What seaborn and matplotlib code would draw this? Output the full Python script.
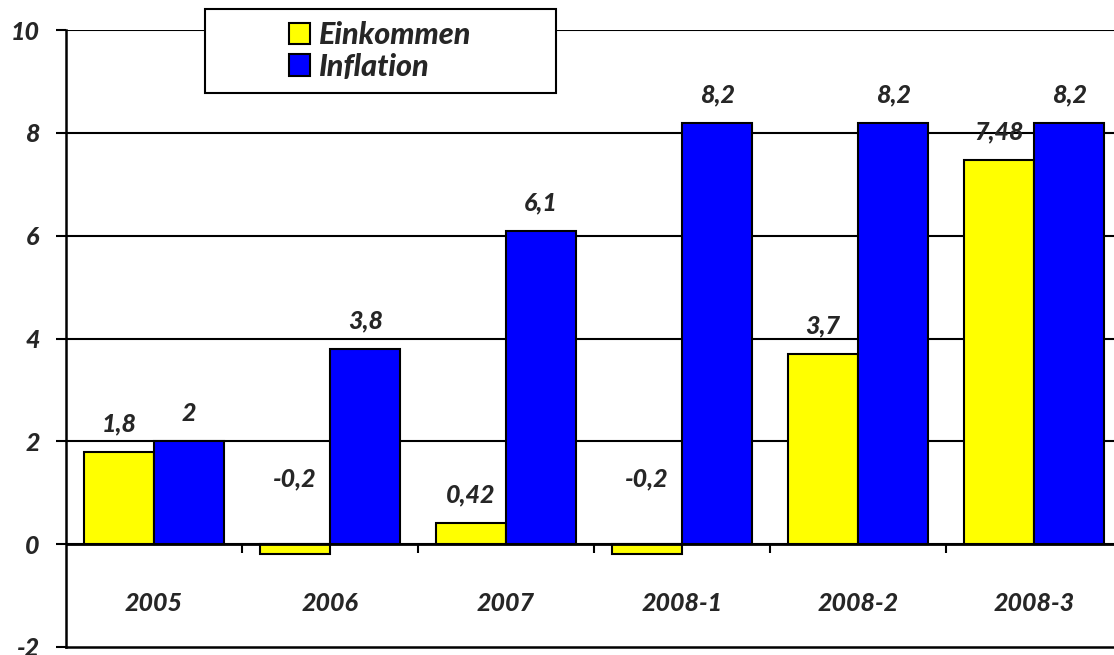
import numpy as np
import pandas as pd
import matplotlib
matplotlib.use("Agg")
import matplotlib.pyplot as plt
from matplotlib.patches import Rectangle
import seaborn as sns

# data
perioden = ["2005", "2006", "2007", "2008-1", "2008-2", "2008-3"]
einkommen = [1.8, -0.2, 0.42, -0.2, 3.7, 7.48]
inflation = [2.0, 3.8, 6.1, 8.2, 8.2, 8.2]
serien = ["Einkommen", "Inflation"]
y_ticks = [-2, 0, 2, 4, 6, 8, 10]

df = pd.DataFrame({
    "Periode": perioden * 2,
    "Serie": [serien[0]] * len(perioden) + [serien[1]] * len(perioden),
    "Wert": einkommen + inflation,
})

W = "black"  # heaviest weight available

sns.set_theme(style="white")
plt.rcParams["font.family"] = ["Lato", "DejaVu Sans"]
plt.rcParams["font.weight"] = W
plt.rcParams["font.style"] = "italic"

fig = plt.figure(figsize=(11.14, 6.55), dpi=100)
ax = fig.add_axes([66 / 1114, 8 / 655, 1056 / 1114, 617 / 655])

sns.barplot(data=df, x="Periode", y="Wert", hue="Serie", order=perioden,
            hue_order=serien, palette=["#FFFF00", "#0000FF"], errorbar=None,
            width=0.8, edgecolor="black", linewidth=1.5, saturation=1,
            legend=False, ax=ax, zorder=3)

ax.set_xlim(-0.5, len(perioden) - 0.5)
ax.set_ylim(y_ticks[0], y_ticks[-1])
ax.set_yticks(y_ticks)
ax.set_yticklabels([str(t) for t in y_ticks], fontsize=18, fontweight=W,
                   fontstyle="italic")
ax.tick_params(axis="y", direction="out", length=7, width=1.5, pad=12,
               left=True, color="black")
ax.set_xticks([])
ax.set_xlabel("")
ax.set_ylabel("")

for t in y_ticks[1:]:
    ax.axhline(t, color="black", lw=1.5, zorder=1)
ax.axhline(0, color="black", lw=2, zorder=4)

# category separator ticks on the zero line
ax.vlines(np.arange(len(perioden) - 1) + 0.5, -0.18, 0, color="black", lw=1.5)

for s in ["top", "right"]:
    ax.spines[s].set_visible(False)
for s in ["left", "bottom"]:
    ax.spines[s].set_color("black")
    ax.spines[s].set_linewidth(1.8)

# category labels between zero line and bottom
for i, p in enumerate(perioden):
    ax.text(i, -1.15, p, ha="center", va="center", fontsize=18,
            fontweight=W, fontstyle="italic")

# value labels
for cont in ax.containers:
    for bar in cont:
        v = bar.get_height()
        txt = f"{v:g}".replace(".", ",")
        x = bar.get_x() + bar.get_width() / 2
        off = 20 if v >= 0 else 47
        ax.annotate(txt, (x, max(v, 0)), xytext=(0, off),
                    textcoords="offset points", ha="center", va="center",
                    fontsize=18, fontweight=W, fontstyle="italic", zorder=5)

# legend with a wide Excel-style box
fig.patches.append(Rectangle((205 / 1114, 1 - 93 / 655), 351 / 1114, 84 / 655,
                             transform=fig.transFigure, facecolor="white",
                             edgecolor="black", lw=1.5, zorder=6))
handles = [Rectangle((0, 0), 1, 1, facecolor=c, edgecolor="black", lw=1.5)
           for c in ["#FFFF00", "#0000FF"]]
leg = fig.legend(handles, serien, loc="center",
                 bbox_to_anchor=(380 / 1114, 1 - 51 / 655),
                 bbox_transform=fig.transFigure, frameon=False,
                 prop={"size": 22, "weight": W, "style": "italic"},
                 handlelength=0.7, handleheight=0.7, handletextpad=0.3,
                 labelspacing=0.1)
leg.set_zorder(7)

fig.savefig("out.png", dpi=100)
